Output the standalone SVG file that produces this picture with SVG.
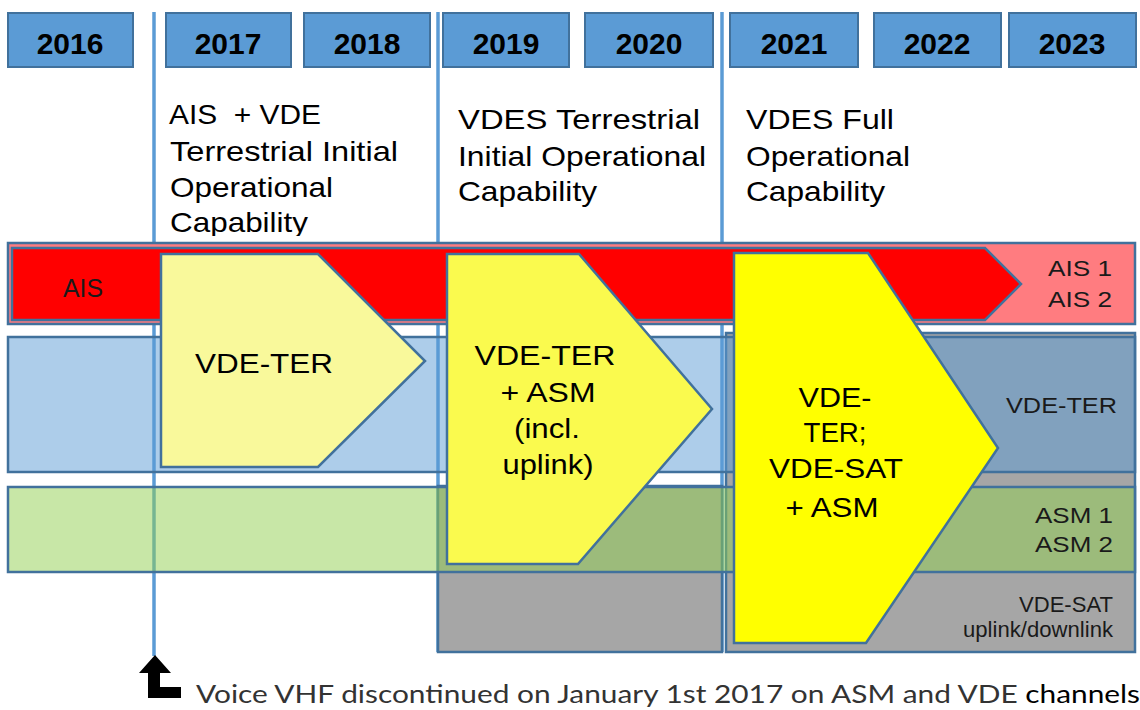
<svg xmlns="http://www.w3.org/2000/svg" width="1140" height="710" viewBox="0 0 1140 710">
  <style>
    .yr { fill: #5B9BD5; stroke: #41719C; stroke-width: 2; }
    .yt { font-family: "Liberation Sans", Arial, sans-serif; font-weight: bold; font-size: 30px; text-anchor: middle; fill: #000; }
    .hd { font-family: "Liberation Sans", Arial, sans-serif; font-size: 28px; fill: #000; }
    .at { font-family: "Liberation Sans", Arial, sans-serif; font-size: 28px; text-anchor: middle; fill: #000; }
    .lb { font-family: "Liberation Sans", Arial, sans-serif; font-size: 22px; text-anchor: end; fill: #1a1a1a; }
    .edge { stroke: #41719C; stroke-width: 2.5; stroke-linejoin: miter; }
    .milestone { stroke: #5B9BD5; stroke-width: 3.5; fill: none; }
    .note { font-family: Lato, "Noto Sans", "Liberation Sans", sans-serif; font-size: 25px; fill: #333; }
  </style>
  <defs>
    <clipPath id="headClip">
      <rect x="0" y="0" width="1140" height="236"/>
    </clipPath>
  </defs>

  <rect x="0" y="0" width="1140" height="710" fill="#fff"/>

  <!-- milestone dividers and the voice VHF pointer -->
  <g id="connectors">
    <line class="milestone" x1="154" y1="12" x2="154" y2="656"/>
    <line class="milestone" x1="438" y1="12" x2="438" y2="652"/>
    <line class="milestone" x1="722" y1="12" x2="722" y2="652"/>
    <polygon points="155,655 171,673 160,673 160,687 181,687 181,698 148,698 148,673 139,673" fill="#000"/>
  </g>

  <!-- grey backing for satellite era -->
  <g id="sat-backing">
    <rect class="edge" x="438" y="486" width="284" height="166" fill="#A6A6A6"/>
    <rect class="edge" x="726" y="333" width="409" height="319" fill="#A6A6A6"/>
  </g>

  <!-- AIS row -->
  <g id="row-ais">
    <rect class="edge" x="8" y="243" width="1127" height="81" fill="#FF7C80"/>
    <polygon class="edge" points="12,248 985,248 1021,284 985,320 12,320" fill="#FF0000" stroke-width="2"/>
    <text x="83" y="297" font-family="Liberation Sans, Arial, sans-serif" font-size="25" text-anchor="middle" fill="#1a1a1a" textLength="40" lengthAdjust="spacingAndGlyphs">AIS</text>
    <text class="lb" x="1112" y="276" textLength="64" lengthAdjust="spacingAndGlyphs">AIS 1</text>
    <text class="lb" x="1112" y="307" textLength="64" lengthAdjust="spacingAndGlyphs">AIS 2</text>
  </g>

  <!-- VDE terrestrial row -->
  <g id="row-vde-ter">
    <rect class="edge" x="8" y="337" width="1127" height="135" fill="#5B9BD5" fill-opacity="0.5"/>
    <text class="lb" x="1117" y="413" textLength="111" lengthAdjust="spacingAndGlyphs">VDE-TER</text>
  </g>

  <!-- ASM row -->
  <g id="row-asm">
    <rect class="edge" x="8" y="487" width="1127" height="85" fill="#92D050" fill-opacity="0.5"/>
    <text class="lb" x="1113" y="523" textLength="78" lengthAdjust="spacingAndGlyphs">ASM 1</text>
    <text class="lb" x="1113" y="552" textLength="78" lengthAdjust="spacingAndGlyphs">ASM 2</text>
  </g>

  <!-- VDE satellite row -->
  <g id="row-vde-sat">
    <text class="lb" x="1113" y="612" textLength="94" lengthAdjust="spacingAndGlyphs">VDE-SAT</text>
    <text class="lb" x="1113" y="637" font-size="19" textLength="150" lengthAdjust="spacingAndGlyphs">uplink/downlink</text>
  </g>

  <!-- phase 1 -->
  <g id="phase-vde-ter">
    <polygon class="edge" points="161,254 318,254 425,361 318,467 161,467" fill="#F9F99B"/>
    <text class="at" x="264" y="373" textLength="138" lengthAdjust="spacingAndGlyphs">VDE-TER</text>
  </g>

  <!-- phase 2 -->
  <g id="phase-vde-ter-asm">
    <polygon class="edge" points="447,254 579,254 712,409 578,564 447,564" fill="#FAFA4E"/>
    <text class="at" x="545" y="365" textLength="141" lengthAdjust="spacingAndGlyphs">VDE-TER</text>
    <text class="at" x="548" y="402" textLength="95" lengthAdjust="spacingAndGlyphs">+ ASM</text>
    <text class="at" x="547" y="438" textLength="66" lengthAdjust="spacingAndGlyphs">(incl.</text>
    <text class="at" x="548" y="474" textLength="91" lengthAdjust="spacingAndGlyphs">uplink)</text>
  </g>

  <!-- phase 3 -->
  <g id="phase-full">
    <polygon class="edge" points="734,253 868,253 998,448 866,643 734,643" fill="#FFFF00"/>
    <text class="at" x="835" y="407" textLength="73" lengthAdjust="spacingAndGlyphs">VDE-</text>
    <text class="at" x="835" y="442" textLength="63" lengthAdjust="spacingAndGlyphs">TER;</text>
    <text class="at" x="836" y="478" textLength="134" lengthAdjust="spacingAndGlyphs">VDE-SAT</text>
    <text class="at" x="832" y="517" textLength="93" lengthAdjust="spacingAndGlyphs">+ ASM</text>
  </g>

  <!-- year header -->
  <g id="years">
    <g id="y2016"><rect class="yr" x="8" y="13" width="125" height="54"/><text class="yt" x="70" y="54">2016</text></g>
    <g id="y2017"><rect class="yr" x="166" y="13" width="125" height="54"/><text class="yt" x="228" y="54">2017</text></g>
    <g id="y2018"><rect class="yr" x="304" y="13" width="126" height="54"/><text class="yt" x="367" y="54">2018</text></g>
    <g id="y2019"><rect class="yr" x="443" y="13" width="126" height="54"/><text class="yt" x="506" y="54">2019</text></g>
    <g id="y2020"><rect class="yr" x="585" y="13" width="128" height="54"/><text class="yt" x="649" y="54">2020</text></g>
    <g id="y2021"><rect class="yr" x="730" y="13" width="128" height="54"/><text class="yt" x="794" y="54">2021</text></g>
    <g id="y2022"><rect class="yr" x="874" y="13" width="127" height="54"/><text class="yt" x="937" y="54">2022</text></g>
    <g id="y2023"><rect class="yr" x="1009" y="13" width="127" height="54"/><text class="yt" x="1072" y="54">2023</text></g>
  </g>

  <!-- milestone headings -->
  <g id="heading-2017" clip-path="url(#headClip)">
    <text class="hd" x="169" y="124" xml:space="preserve" textLength="152" lengthAdjust="spacingAndGlyphs">AIS  + VDE</text>
    <text class="hd" x="170" y="161" textLength="228" lengthAdjust="spacingAndGlyphs">Terrestrial Initial</text>
    <text class="hd" x="170" y="197" textLength="163" lengthAdjust="spacingAndGlyphs">Operational</text>
    <text class="hd" x="170" y="232" textLength="138" lengthAdjust="spacingAndGlyphs">Capability</text>
  </g>
  <g id="heading-2019">
    <text class="hd" x="458" y="129" textLength="242" lengthAdjust="spacingAndGlyphs">VDES Terrestrial</text>
    <text class="hd" x="458" y="166" textLength="248" lengthAdjust="spacingAndGlyphs">Initial Operational</text>
    <text class="hd" x="458" y="201" textLength="139" lengthAdjust="spacingAndGlyphs">Capability</text>
  </g>
  <g id="heading-2021">
    <text class="hd" x="746" y="129" textLength="148" lengthAdjust="spacingAndGlyphs">VDES Full</text>
    <text class="hd" x="746" y="166" textLength="164" lengthAdjust="spacingAndGlyphs">Operational</text>
    <text class="hd" x="746" y="201" textLength="139" lengthAdjust="spacingAndGlyphs">Capability</text>
  </g>

  <!-- footnote -->
  <g id="note-voice-vhf">
    <text class="note" x="196" y="703" textLength="944" lengthAdjust="spacingAndGlyphs">Voice VHF discontinued on January 1st 2017 on ASM and VDE <tspan fill="#000">channels</tspan></text>
  </g>
</svg>
